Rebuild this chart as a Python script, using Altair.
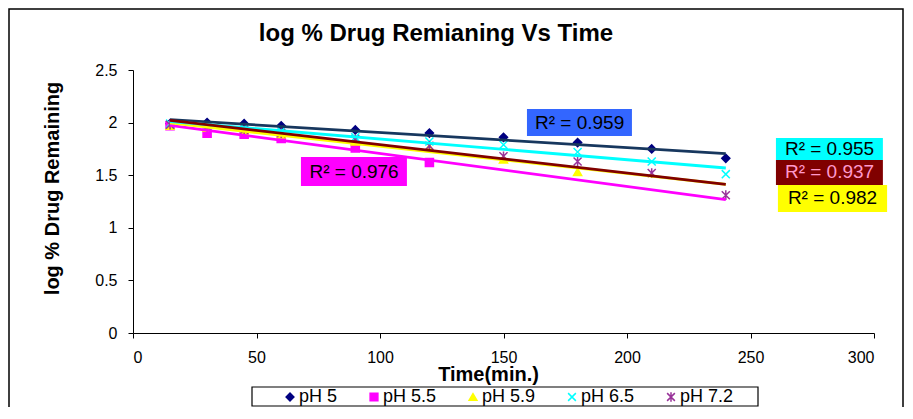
import altair as alt
import pandas as pd

# ---------------- data ----------------
series_names = ["pH 5", "pH 5.5", "pH 5.9", "pH 6.5", "pH 7.2"]

time_ph5 = [15, 30, 45, 60, 90, 120, 150, 180, 210, 240]
ph5 = [1.99, 2.00, 1.99, 1.97, 1.93, 1.90, 1.86, 1.81, 1.75, 1.66]

time_ph55 = [15, 30, 45, 60, 90, 120]
ph55 = [1.97, 1.90, 1.89, 1.85, 1.76, 1.62]

time_ph59 = [15, 30, 45, 60, 90, 120, 150, 180]
ph59 = [1.97, 1.95, 1.92, 1.89, 1.82, 1.76, 1.65, 1.53]

time_ph65 = [15, 30, 45, 60, 90, 120, 150, 180, 210, 240]
ph65 = [1.99, 1.97, 1.95, 1.92, 1.86, 1.82, 1.79, 1.72, 1.63, 1.51]

time_ph72 = [15, 30, 45, 60, 90, 120, 150, 180, 210, 240]
ph72 = [1.98, 1.96, 1.93, 1.90, 1.84, 1.78, 1.68, 1.63, 1.52, 1.31]

chart_title = "log % Drug Remianing Vs Time"

# R² annotations
r2_text = ["R² = 0.959", "R² = 0.976", "R² = 0.955", "R² = 0.937", "R² = 0.982"]
r2_x = [180.8, 89.5, 282.0, 282.0, 283.2]
r2_y = [2.00, 1.535, 1.749, 1.526, 1.279]
r2_box_x1 = [159.5, 68.0, 260.3, 260.3, 261.1]
r2_box_x2 = [202.0, 110.9, 303.6, 303.6, 305.3]
r2_box_y1 = [2.129, 1.673, 1.854, 1.644, 1.407]
r2_box_y2 = [1.873, 1.397, 1.644, 1.407, 1.150]
r2_box_fill = ["#3366FF", "#FF00FF", "#00FFFF", "#800000", "#FFFF00"]
r2_text_color = ["#000000", "#000000", "#000000", "#FF99CC", "#000000"]

# ---------------- styling ----------------
X_PATH = "M-1,-1L1,1M-1,1L1,-1"
STAR_PATH = "M-1,-1L1,1M-1,1L1,-1M0,-1.2L0,1.2"
marker_shapes = ["diamond", "square", "triangle-up", X_PATH, STAR_PATH]
marker_fill = ["#000080", "#FF00FF", "#FFFF00", "transparent", "transparent"]
marker_stroke = ["#000080", "#FF00FF", "#FFFF00", "#00FFFF", "#993399"]
trend_colors = ["#17375E", "#FF00FF", "#FFFF00", "#00FFFF", "#800000"]

FONT = "Liberation Sans"

rows = []
for name, ts, ys in [
    ("pH 5", time_ph5, ph5),
    ("pH 5.5", time_ph55, ph55),
    ("pH 5.9", time_ph59, ph59),
    ("pH 6.5", time_ph65, ph65),
    ("pH 7.2", time_ph72, ph72),
]:
    for t, y in zip(ts, ys):
        rows.append({"series": name, "time": t, "value": y})
df = pd.DataFrame(rows)

x_scale = alt.Scale(domain=[0, 300], nice=False)
y_scale = alt.Scale(domain=[0, 2.5], nice=False)

x_axis = alt.Axis(
    values=[0, 50, 100, 150, 200, 250, 300],
    title="Time(min.)",
    grid=False,
    tickSize=5,
    labelPadding=11,
    labelFontSize=16,
    labelFont=FONT,
    labelColor="black",
    domainColor="black",
    tickColor="black",
    titleFont=FONT,
    titleFontSize=20,
    titleFontWeight="bold",
    titleColor="black",
    titleX=355,
    titleY=47,
    titleAlign="center",
    titleBaseline="alphabetic",
)
y_axis = alt.Axis(
    values=[0, 0.5, 1, 1.5, 2, 2.5],
    format="~g",
    title="log % Drug Remaining",
    grid=False,
    tickSize=5,
    labelPadding=11,
    labelFontSize=16,
    labelFont=FONT,
    labelColor="black",
    domainColor="black",
    tickColor="black",
    titleFont=FONT,
    titleFontSize=20,
    titleFontWeight="bold",
    titleColor="black",
    titleAngle=270,
    titleX=-81,
    titleY=118,
    titleAlign="center",
    titleBaseline="middle",
)

base = alt.Chart(df)

trend = (
    base.transform_regression("time", "value", groupby=["series"], extent=[15, 240])
    .mark_line(strokeWidth=2.8)
    .encode(
        x=alt.X("time:Q", scale=x_scale, axis=x_axis),
        y=alt.Y("value:Q", scale=y_scale, axis=y_axis),
        color=alt.Color("series:N", scale=alt.Scale(domain=series_names, range=trend_colors), legend=None),
        detail="series:N",
    )
)

legend = alt.Legend(
    title=None,
    orient="none",
    legendX=148,
    legendY=318,
    direction="horizontal",
    padding=0,
    labelFont=FONT,
    labelFontSize=18,
    labelColor="black",
    symbolSize=60,
    symbolStrokeWidth=1.5,
    columnPadding=27,
    labelOffset=0,
)

points = base.mark_point(size=65, strokeWidth=1.5, opacity=1).encode(
    x=alt.X("time:Q", scale=x_scale, axis=x_axis),
    y=alt.Y("value:Q", scale=y_scale, axis=y_axis),
    shape=alt.Shape("series:N", scale=alt.Scale(domain=series_names, range=marker_shapes), legend=legend),
    fill=alt.Fill("series:N", scale=alt.Scale(domain=series_names, range=marker_fill), legend=legend),
    stroke=alt.Stroke("series:N", scale=alt.Scale(domain=series_names, range=marker_stroke), legend=legend),
)

label_layers = []
for i in range(len(r2_text)):
    d = pd.DataFrame([{
        "x1": r2_box_x1[i], "x2": r2_box_x2[i],
        "y1": r2_box_y1[i], "y2": r2_box_y2[i],
        "tx": r2_x[i], "ty": r2_y[i], "label": r2_text[i],
    }])
    box = alt.Chart(d).mark_rect(fill=r2_box_fill[i]).encode(
        x=alt.X("x1:Q", scale=x_scale), x2="x2:Q",
        y=alt.Y("y1:Q", scale=y_scale), y2="y2:Q",
    )
    txt = alt.Chart(d).mark_text(
        font=FONT, fontSize=19, color=r2_text_color[i], align="center", baseline="middle"
    ).encode(
        x=alt.X("tx:Q", scale=x_scale), y=alt.Y("ty:Q", scale=y_scale), text="label:N"
    )
    label_layers += [box, txt]

one = pd.DataFrame([{"title": chart_title}])

# outer chart-area frame and legend box (decorations)
frame = alt.Chart(one).mark_rect(
    fill="transparent", stroke="black", strokeWidth=1.5
).encode(
    x=alt.value(-124), x2=alt.value(770), y=alt.value(-61), y2=alt.value(400)
)
legend_box = alt.Chart(one).mark_rect(
    fill="transparent", stroke="black", strokeWidth=1.2
).encode(
    x=alt.value(119), x2=alt.value(625), y=alt.value(317), y2=alt.value(336)
)
title_mark = alt.Chart(one).mark_text(
    font=FONT, fontSize=24, fontWeight="bold", color="black", align="center", baseline="middle"
).encode(
    x=alt.value(303), y=alt.value(-36), text="title:N"
)

chart = (
    alt.layer(frame, legend_box, title_mark, points, trend, *label_layers)
    .resolve_scale(color="independent", fill="independent", stroke="independent", shape="independent")
    .properties(
        width=741,
        height=263,
        autosize=alt.AutoSizeParams(type="none"),
        padding={"left": 125, "top": 62, "right": 31, "bottom": 74},
        background="white",
    )
    .configure_view(strokeWidth=0)
)

chart.save("out.html", embed_options={"renderer": "svg", "actions": False})
